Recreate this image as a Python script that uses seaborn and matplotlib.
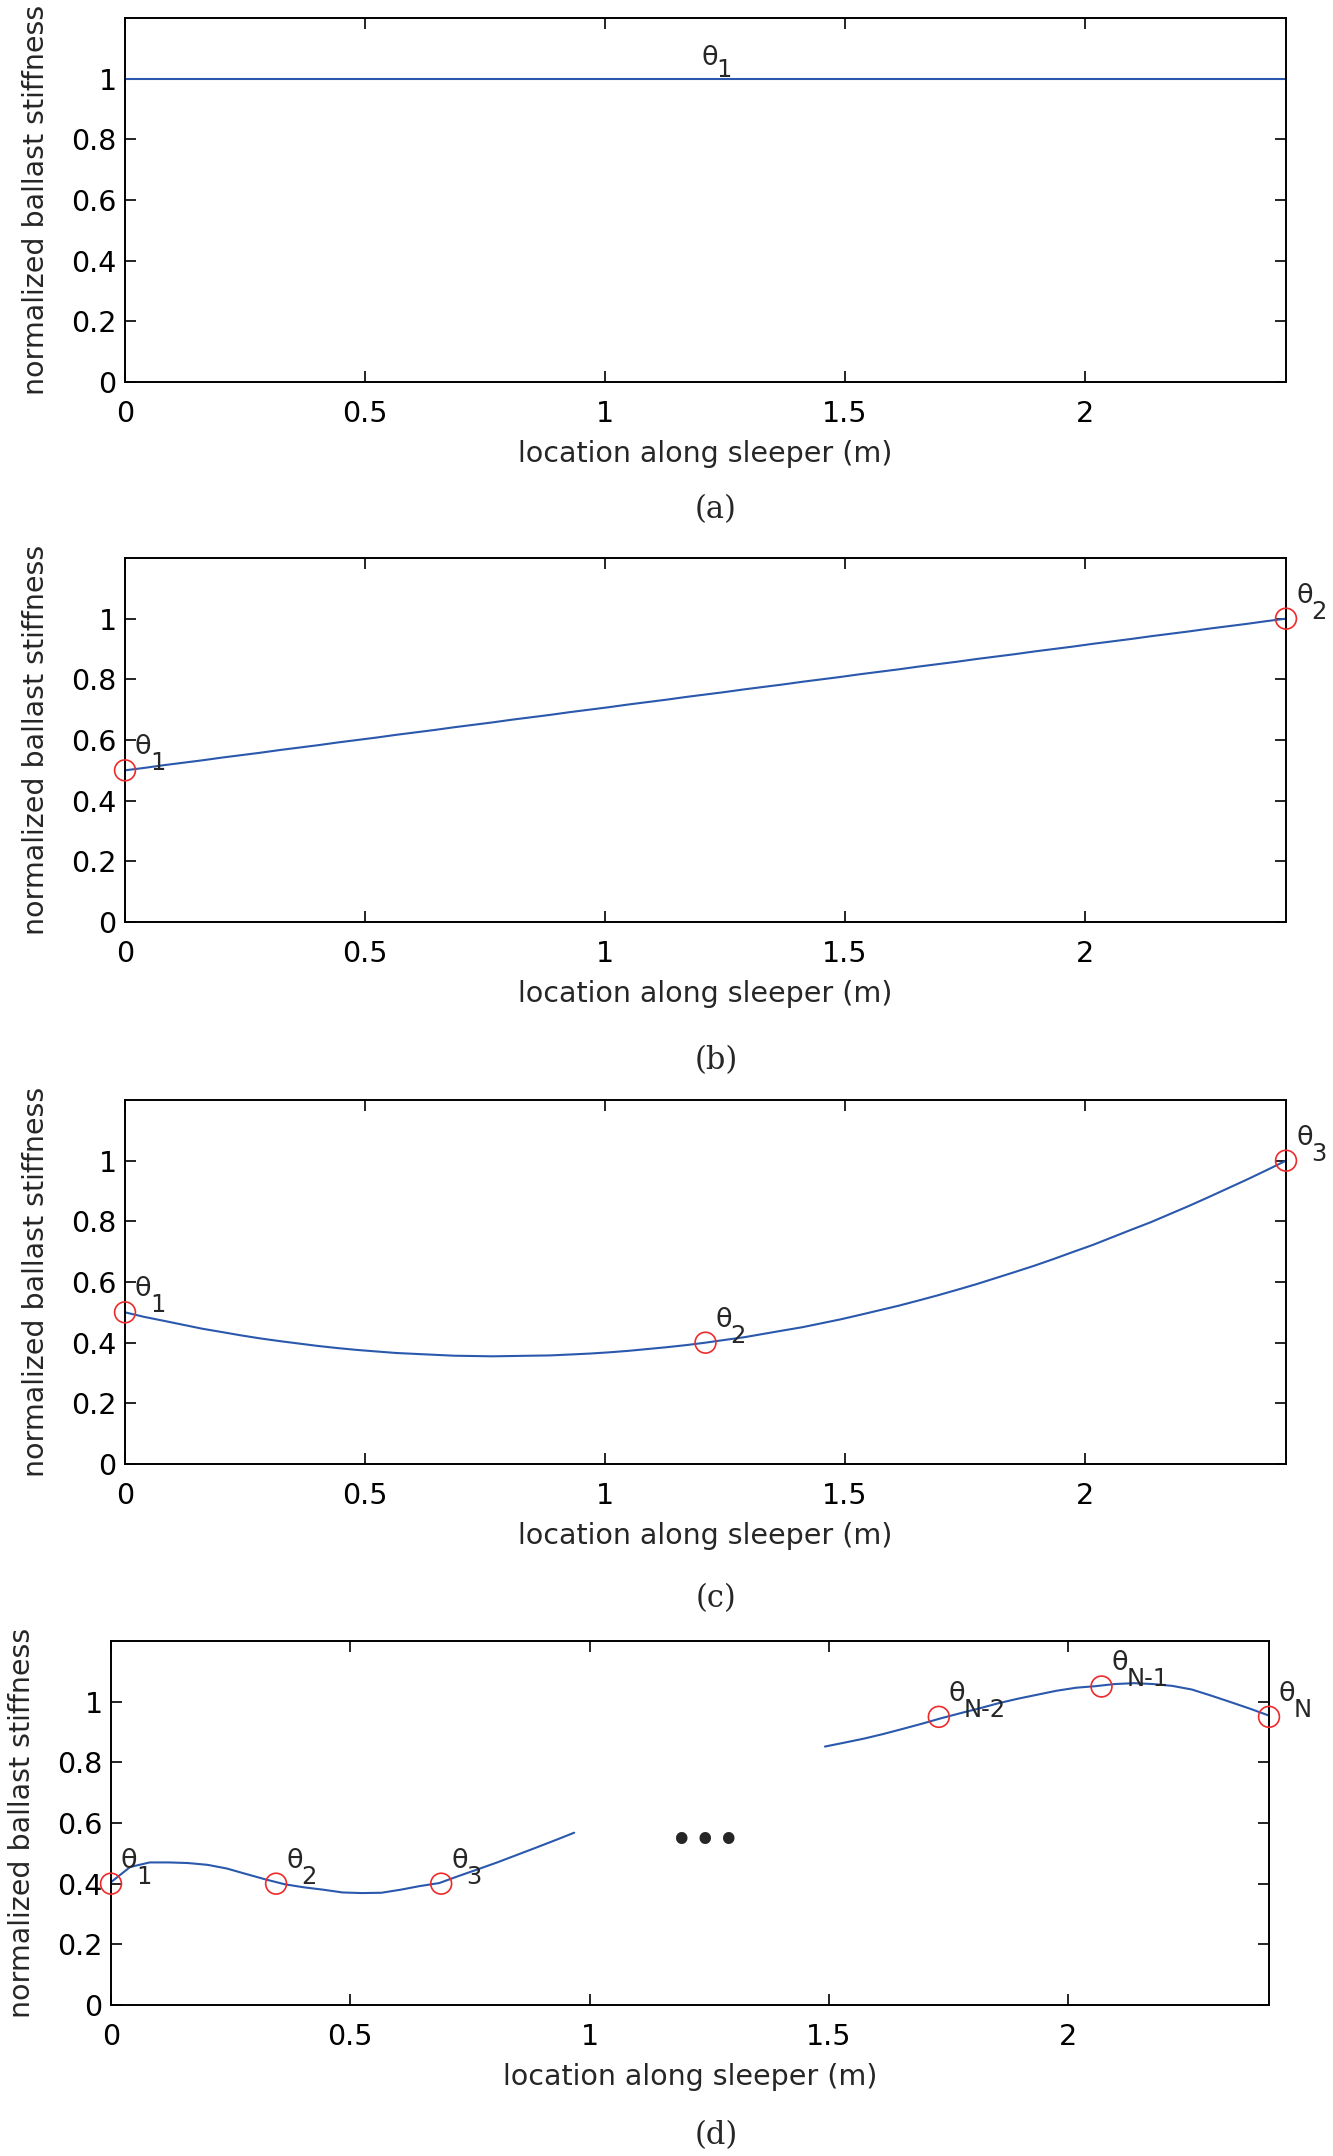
import numpy as np
import matplotlib
matplotlib.use("Agg")
import matplotlib.pyplot as plt
import seaborn as sns

# -------------------------------
# 1. Data
# -------------------------------
sleeper_length = 2.42

# element nodes along the sleeper (m)
nodes = [0.000, 0.040, 0.081, 0.121, 0.161, 0.202, 0.242, 0.282, 0.323, 0.363,
         0.403, 0.444, 0.484, 0.524, 0.565, 0.605, 0.645, 0.686, 0.726, 0.766,
         0.807, 0.847, 0.887, 0.928, 0.968, 1.008, 1.049, 1.089, 1.129, 1.170,
         1.210, 1.250, 1.291, 1.331, 1.371, 1.412, 1.452, 1.492, 1.533, 1.573,
         1.613, 1.654, 1.694, 1.734, 1.775, 1.815, 1.855, 1.896, 1.936, 1.976,
         2.017, 2.057, 2.097, 2.138, 2.178, 2.218, 2.259, 2.299, 2.339, 2.380,
         2.420]

# (a) uniform stiffness
a_x = [0.0, 2.42]
a_y = [1.0, 1.0]

# (b) linear between two control points
b_y = [0.500, 0.508, 0.517, 0.525, 0.533, 0.542, 0.550, 0.558, 0.567, 0.575,
       0.583, 0.592, 0.600, 0.608, 0.617, 0.625, 0.633, 0.642, 0.650, 0.658,
       0.667, 0.675, 0.683, 0.692, 0.700, 0.708, 0.717, 0.725, 0.733, 0.742,
       0.750, 0.758, 0.767, 0.775, 0.783, 0.792, 0.800, 0.808, 0.817, 0.825,
       0.833, 0.842, 0.850, 0.858, 0.867, 0.875, 0.883, 0.892, 0.900, 0.908,
       0.917, 0.925, 0.933, 0.942, 0.950, 0.958, 0.967, 0.975, 0.983, 0.992,
       1.000]
b_theta_x = [0.0, 2.42]
b_theta_y = [0.5, 1.0]

# (c) three control points
c_y = [0.500, 0.485, 0.472, 0.459, 0.446, 0.435, 0.424, 0.414, 0.405, 0.397,
       0.389, 0.382, 0.376, 0.371, 0.366, 0.363, 0.360, 0.357, 0.356, 0.355,
       0.356, 0.357, 0.358, 0.361, 0.364, 0.368, 0.373, 0.379, 0.385, 0.392,
       0.400, 0.409, 0.418, 0.429, 0.440, 0.451, 0.464, 0.477, 0.492, 0.507,
       0.522, 0.539, 0.556, 0.574, 0.593, 0.613, 0.633, 0.654, 0.676, 0.699,
       0.722, 0.747, 0.772, 0.797, 0.824, 0.851, 0.880, 0.909, 0.938, 0.969,
       1.000]
c_theta_x = [0.0, 1.21, 2.42]
c_theta_y = [0.5, 0.4, 1.0]

# (d) N control points, two visible pieces
d1_y = [0.405, 0.455, 0.470, 0.470, 0.468, 0.462, 0.450, 0.432, 0.414, 0.398,
        0.388, 0.380, 0.371, 0.369, 0.370, 0.380, 0.392, 0.402, 0.425, 0.447,
        0.470, 0.494, 0.518, 0.543, 0.568]
d2_y = [0.852, 0.865, 0.878, 0.893, 0.910, 0.927, 0.945, 0.962, 0.978, 0.995,
        1.010, 1.023, 1.036, 1.046, 1.051, 1.058, 1.061, 1.058, 1.052, 1.040,
        1.020, 0.999, 0.977, 0.954]
d_theta_x = [0.0, 0.345, 0.69, 1.73, 2.07, 2.42]
d_theta_y = [0.40, 0.40, 0.40, 0.95, 1.05, 0.95]
d_theta_sub = ["1", "2", "3", "N-2", "N-1", "N"]

x_ticks = [0, 0.5, 1, 1.5, 2]
y_ticks = [0, 0.2, 0.4, 0.6, 0.8, 1]
captions = ["(a)", "(b)", "(c)", "(d)"]

# -------------------------------
# 2. Style
# -------------------------------
sns.set_theme(style="ticks")
plt.rcParams["font.family"] = ["DejaVu Sans"]
plt.rcParams.update({
    "font.size": 20.5,
    "axes.linewidth": 1.4,
    "xtick.direction": "in",
    "ytick.direction": "in",
    "xtick.top": True,
    "ytick.right": True,
    "xtick.major.size": 8,
    "ytick.major.size": 8,
    "xtick.major.width": 1.2,
    "ytick.major.width": 1.2,
    "xtick.major.pad": 13,
    "ytick.major.pad": 6,
    "xtick.labelsize": 20.5,
    "ytick.labelsize": 20.5,
    "axes.labelsize": 20.5,
    "xtick.color": "black",
    "ytick.color": "black",
    "axes.edgecolor": "black",
})

BLUE = "#2a58ad"
RED = "#ee2a2a"

W, H = 1333, 2156
fig = plt.figure(figsize=(W / 100, H / 100), dpi=100)

# axes boxes in pixels: left, right, top, bottom
boxes = [(125, 1286, 18, 382), (125, 1286, 558, 922),
         (125, 1286, 1100, 1464), (111, 1269, 1641, 2005)]
caption_drop = [128, 139, 135, 131]
axes = []
for l, r, t, b in boxes:
    axes.append(fig.add_axes([l / W, (H - b) / H, (r - l) / W, (b - t) / H]))


def theta_label(ax, x, y, sub, dy_theta=16, dy_sub=0):
    ax.annotate("θ", xy=(x, y), xytext=(10, dy_theta), textcoords="offset pixels",
                ha="left", va="baseline", fontsize=19.5, annotation_clip=False)
    ax.annotate(sub, xy=(x, y), xytext=(25, dy_sub), textcoords="offset pixels",
                ha="left", va="baseline", fontsize=17.5, annotation_clip=False)


def control_points(ax, xs, ys):
    sns.scatterplot(x=xs, y=ys, ax=ax, marker="o", s=225, facecolor="none",
                    edgecolor=RED, linewidth=1.2, clip_on=False, zorder=5)


def curve(ax, xs, ys):
    sns.lineplot(x=xs, y=ys, ax=ax, color=BLUE, linewidth=1.5, estimator=None)


# -------------------------------
# 3. Panels
# -------------------------------
ax = axes[0]
curve(ax, a_x, a_y)
theta_label(ax, 1.18, 1.0, "1", dy_theta=14, dy_sub=2)

ax = axes[1]
curve(ax, nodes, b_y)
control_points(ax, b_theta_x, b_theta_y)
for i, (tx, ty) in enumerate(zip(b_theta_x, b_theta_y)):
    theta_label(ax, tx, ty, str(i + 1))

ax = axes[2]
curve(ax, nodes, c_y)
control_points(ax, c_theta_x, c_theta_y)
for i, (tx, ty) in enumerate(zip(c_theta_x, c_theta_y)):
    theta_label(ax, tx, ty, str(i + 1))

ax = axes[3]
curve(ax, nodes[:len(d1_y)], d1_y)
curve(ax, nodes[len(nodes) - len(d2_y):], d2_y)
control_points(ax, d_theta_x, d_theta_y)
for tx, ty, sub in zip(d_theta_x, d_theta_y, d_theta_sub):
    theta_label(ax, tx, ty, sub)
ax.text(1.241, 0.502, "•••", ha="center", va="baseline", fontsize=28.5)

# -------------------------------
# 4. Axes cosmetics
# -------------------------------
for ax, cap, drop, (l, r, t, b) in zip(axes, captions, caption_drop, boxes):
    ax.set_xlim(0, sleeper_length)
    ax.set_ylim(0, 1.2)
    ax.set_xticks(x_ticks)
    ax.set_xticklabels(["0", "0.5", "1", "1.5", "2"])
    ax.set_yticks(y_ticks)
    ax.set_yticklabels(["0", "0.2", "0.4", "0.6", "0.8", "1"])
    ax.set_xlabel("location along sleeper (m)")
    ax.set_ylabel("normalized ballast stiffness")
    ax.xaxis.set_label_coords(0.5, -58 / (b - t))
    ax.yaxis.set_label_coords(-75 / (r - l), 0.5)
    for s in ax.spines.values():
        s.set_visible(True)
        s.set_linewidth(1.4)
    ax.text((716 - l) / (r - l), -drop / (b - t), cap, transform=ax.transAxes,
            ha="center", va="center", fontsize=22, family="DejaVu Serif")

plt.savefig("out.png", dpi=100)
